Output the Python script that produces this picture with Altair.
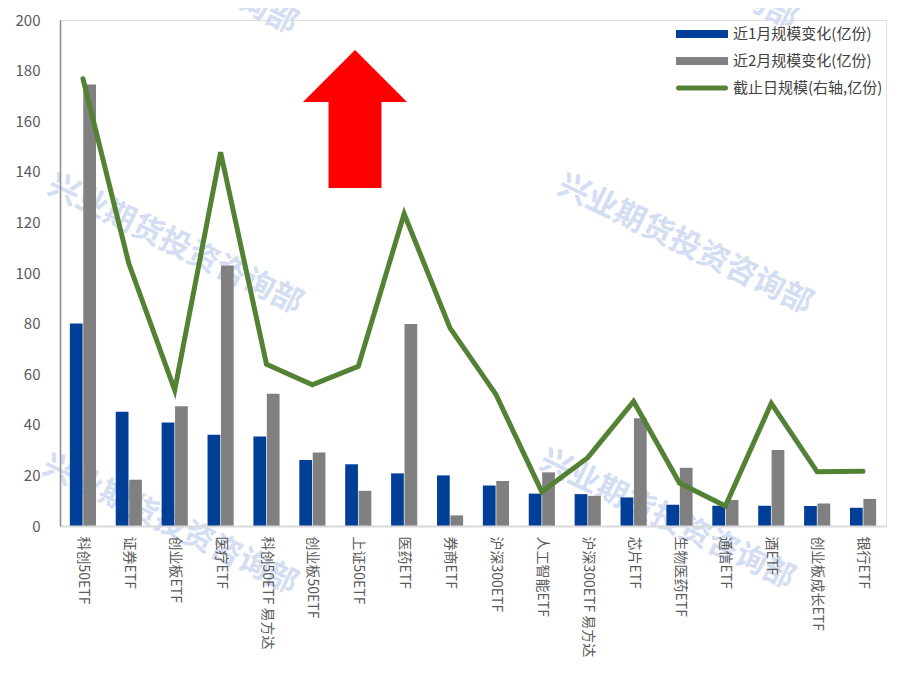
import altair as alt
import pandas as pd

categories = ["科创50ETF", "证券ETF", "创业板ETF", "医疗ETF", "科创50ETF 易方达", "创业板50ETF",
              "上证50ETF", "医药ETF", "券商ETF", "沪深300ETF", "人工智能ETF", "沪深300ETF 易方达",
              "芯片ETF", "生物医药ETF", "通信ETF", "酒ETF", "创业板成长ETF", "银行ETF"]
chg_1m = [80.0, 45.2, 40.9, 36.1, 35.4, 26.1, 24.4, 20.8, 20.0, 16.0, 12.8, 12.6, 11.3, 8.4, 8.0, 8.0, 7.9, 7.2]
chg_2m = [174.5, 18.3, 47.3, 103.0, 52.3, 29.1, 13.9, 79.8, 4.2, 17.8, 21.2, 11.9, 42.6, 23.0, 10.3, 30.0, 8.9, 10.7]
scale_total = [176.8, 103.7, 53.7, 147.7, 63.9, 55.8, 63.1, 123.4, 78.2, 52.0, 13.5, 27.0, 49.2, 17.0, 7.9, 48.5, 21.4, 21.6]

s1 = "近1月规模变化(亿份)"
s2 = "近2月规模变化(亿份)"
s3 = "截止日规模(右轴,亿份)"
y_ticks = [0, 20, 40, 60, 80, 100, 120, 140, 160, 180, 200]
watermark = "兴业期货投资咨询部"

FONT = "Noto Sans CJK SC"
BLUE = "#003f98"
GREY = "#808080"
GREEN = "#548235"
W, H = 826, 506
TOP = 12

bars_df = pd.DataFrame({
    "cat": categories * 2,
    "series": [s1] * len(categories) + [s2] * len(categories),
    "value": chg_1m + chg_2m,
})
line_df = pd.DataFrame({"cat": categories, "lname": [s3] * len(categories), "value": scale_total})

xscale = alt.Scale(domain=categories, paddingInner=0.43, paddingOuter=0.215)
x_enc = alt.X("cat:N", sort=categories, scale=xscale, title=None,
              axis=alt.Axis(labelAngle=90, labelFontSize=14, labelColor="#595959", labelFont=FONT,
                            ticks=False, domainColor="#d9d9d9", domainWidth=2, labelPadding=10,
                            labelLimit=200, zindex=1))

# watermark layers (decoration)
wm_pos = [(115, 225), (625, 225), (110, 505), (607, 500), (110, -55), (610, -60)]
wm_layers = [
    alt.Chart(pd.DataFrame({"t": [watermark]})).mark_text(
        angle=26, fontSize=31, fontWeight="bold", color="#d3def2", font=FONT
    ).encode(text="t:N", x=alt.value(px), y=alt.value(py))
    for px, py in wm_pos
]

bars = alt.Chart(bars_df).mark_bar().encode(
    x=x_enc,
    xOffset=alt.XOffset("series:N", sort=[s1, s2], scale=alt.Scale(paddingInner=0.05)),
    y=alt.Y("value:Q", scale=alt.Scale(domain=[0, 200], nice=False), title=None,
            axis=alt.Axis(values=y_ticks, labelFontSize=15, labelColor="#595959", labelFont=FONT,
                          ticks=False, grid=False, domainColor="#8c8c8c", domainWidth=1.5,
                          labelPadding=20, zindex=1)),
    color=alt.Color("series:N", sort=[s1, s2],
                    scale=alt.Scale(domain=[s1, s2], range=[BLUE, GREY]), legend=None),
)

line = alt.Chart(line_df).mark_line(strokeWidth=5, strokeCap="round").encode(
    x=alt.X("cat:N", sort=categories, scale=xscale),
    y=alt.Y("value:Q", scale=alt.Scale(domain=[0, 200], nice=False), axis=None),
    stroke=alt.Stroke("lname:N", scale=alt.Scale(domain=[s3], range=[GREEN]), legend=None),
)

arrow = alt.Chart(pd.DataFrame({"a": [1]})).mark_point(
    shape="M0,-1L0.754,-0.246L0.384,-0.246L0.384,1L-0.384,1L-0.384,-0.246L-0.754,-0.246Z",
    size=19044, filled=True, color="#ff0000", opacity=1
).encode(x=alt.value(295), y=alt.value(99))

# legend (drawn as marks)
leg_layers = []
for i, (lab, col, sw, cap) in enumerate([(s1, BLUE, 8, "butt"), (s2, GREY, 8, "butt"),
                                          (s3, GREEN, 5, "round")]):
    yy = 14 + 27 * i
    inset = 2.5 if cap == "round" else 0
    leg_layers.append(
        alt.Chart(pd.DataFrame({"t": [lab]})).mark_rule(color=col, strokeWidth=sw, strokeCap=cap)
        .encode(x=alt.value(616 + inset), x2=alt.value(668 - inset), y=alt.value(yy))
    )
    leg_layers.append(
        alt.Chart(pd.DataFrame({"t": [lab]})).mark_text(
            align="left", baseline="middle", fontSize=15, color="#404040", font=FONT
        ).encode(text="t:N", x=alt.value(673), y=alt.value(yy))
    )

chart = alt.layer(*wm_layers, bars, line, arrow, *leg_layers).resolve_scale(y="independent").properties(
    width=W, height=H,
    autosize=alt.AutoSizeParams(type="none"),
    padding={"left": 52, "top": TOP, "right": 3, "bottom": 136},
).configure_view(stroke=None).configure(font=FONT)

chart.save("out.html", embed_options={"renderer": "svg", "actions": False})
